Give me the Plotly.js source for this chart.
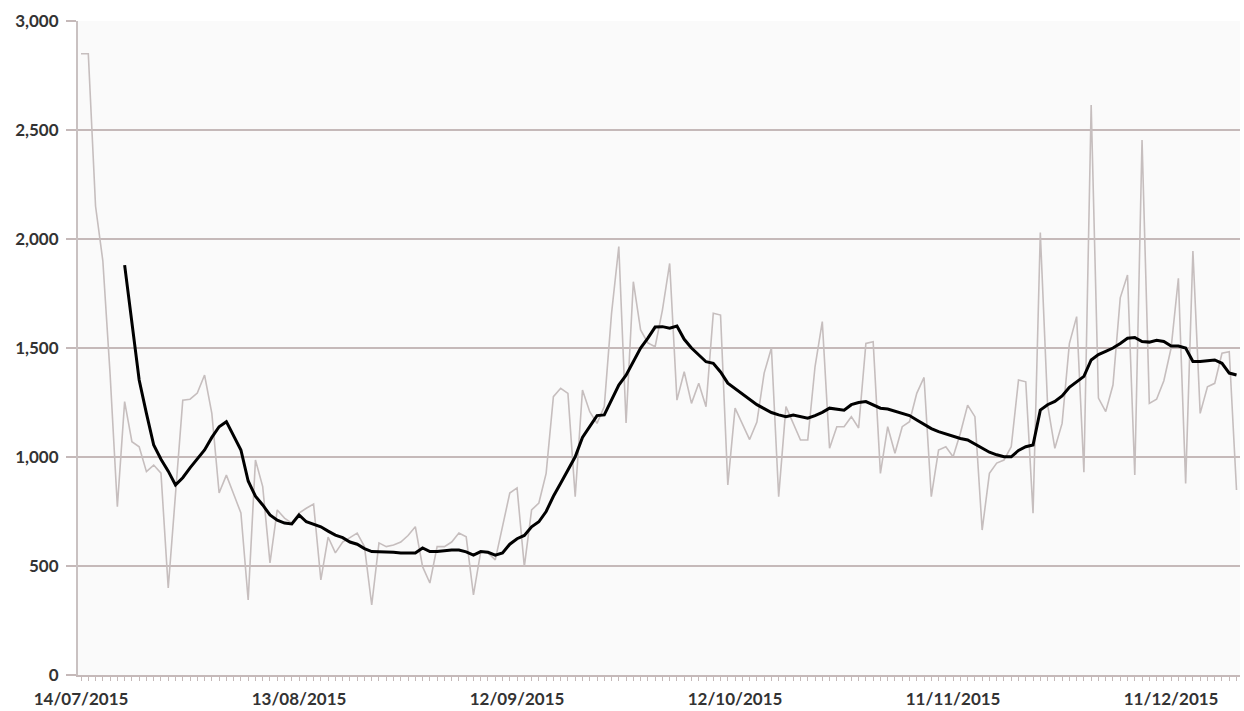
<!DOCTYPE html>
<html>
<head>
<meta charset="utf-8">
<script src="https://cdn.plot.ly/plotly-3.0.1.min.js"></script>
<style>html,body{margin:0;padding:0;background:#fff;}#chart{width:1244px;height:711px;}</style>
</head>
<body>
<div id="chart"></div>
<script>
// Daily values starting 14/07/2015 (one value per day)
var startDate = '2015-07-14';
var daily = [
  2850, 2850, 2150, 1900, 1380, 772, 1254, 1070, 1047, 933,
  963, 926, 399, 835, 1261, 1265, 1293, 1376, 1200, 835,
  917, 830, 743, 344, 986, 864, 514, 757, 720, 697,
  743, 765, 784, 436, 633, 560, 610, 630, 651, 589,
  321, 606, 589, 596, 610, 640, 680, 497, 422, 589,
  589, 610, 651, 634, 367, 566, 560, 528, 680, 835,
  858, 497, 757, 789, 925, 1277, 1315, 1292, 818, 1307,
  1208, 1154, 1231, 1659, 1965, 1156, 1804, 1583, 1523, 1506,
  1674, 1888, 1261, 1391, 1246, 1338, 1231, 1659, 1651, 872,
  1224, 1150, 1080, 1160, 1385, 1500, 818, 1231, 1154, 1078,
  1078, 1414, 1621, 1040, 1139, 1139, 1185, 1133, 1521, 1529,
  925, 1139, 1017, 1139, 1162, 1292, 1365, 818, 1032, 1047,
  1001, 1109, 1238, 1185, 665, 925, 972, 986, 1047, 1353,
  1345, 742, 2030, 1240, 1040, 1154, 1520, 1644, 930, 2615,
  1270, 1208, 1330, 1730, 1835, 917, 2454, 1246, 1265, 1350,
  1500, 1820, 879, 1945, 1200, 1322, 1338, 1476, 1483, 849
];
// Moving average line (starts on the 7th day)
var avgStart = 6;
var average = [
  1880, 1620, 1353, 1200, 1055, 990, 935, 872, 905, 950,
  990, 1032, 1090, 1139, 1162, 1100, 1032, 890, 820, 780,
  734, 710, 697, 693, 734, 703, 690, 680, 660, 642,
  630, 610, 600, 580, 566, 566, 566, 563, 560, 560,
  560, 583, 566, 566, 570, 573, 573, 565, 550, 566,
  563, 550, 560, 600, 625, 640, 680, 703, 750, 820,
  880, 940, 1001, 1090, 1140, 1190, 1193, 1260, 1330, 1375,
  1440, 1500, 1545, 1596, 1598, 1591, 1601, 1540, 1500, 1470,
  1437, 1430, 1390, 1339, 1315, 1290, 1265, 1240, 1222, 1204,
  1193, 1185, 1193, 1185, 1178, 1190, 1205, 1224, 1218, 1215,
  1240, 1250, 1254, 1240, 1224, 1220, 1210, 1200, 1190, 1170,
  1150, 1130, 1116, 1105, 1095, 1085, 1078, 1060, 1040, 1022,
  1010, 1001, 1001, 1030, 1047, 1055, 1215, 1240, 1255, 1280,
  1320, 1345, 1370, 1445, 1470, 1485, 1500, 1521, 1545, 1548,
  1530, 1527, 1535, 1530, 1509, 1509, 1500, 1438, 1438, 1442,
  1445, 1430, 1385, 1376
];
var tickDates = ['2015-07-14', '2015-08-13', '2015-09-12', '2015-10-12', '2015-11-11', '2015-12-11'];
var tickLabels = ['14/07/2015', '13/08/2015', '12/09/2015', '12/10/2015', '11/11/2015', '11/12/2015'];
var yTicks = [0, 500, 1000, 1500, 2000, 2500, 3000];
var yTickLabels = ['0', '500', '1,000', '1,500', '2,000', '2,500', '3,000'];

function dayString(i) {
  var d = new Date(startDate + 'T00:00:00Z');
  d.setUTCDate(d.getUTCDate() + i);
  return d.toISOString().slice(0, 10);
}
var dates = daily.map(function (v, i) { return dayString(i); });
var avgDates = average.map(function (v, i) { return dayString(i + avgStart); });

var gridColor = '#c5b9b9';
var font = {family: 'Lato, "Open Sans", sans-serif', size: 17, color: '#333333', weight: 'bold'};

var data = [
  {x: dates, y: daily, type: 'scatter', mode: 'lines',
   line: {color: '#c6bebe', width: 1.6}, hoverinfo: 'x+y', showlegend: false},
  {x: avgDates, y: average, type: 'scatter', mode: 'lines',
   line: {color: '#000000', width: 3}, hoverinfo: 'x+y', showlegend: false}
];

var layout = {
  width: 1244, height: 711,
  margin: {l: 78, r: 4, t: 21, b: 36, pad: 0},
  paper_bgcolor: '#ffffff',
  plot_bgcolor: '#fafafa',
  font: font,
  showlegend: false,
  xaxis: {
    type: 'date',
    range: ['2015-07-13 14:00', '2015-12-20 11:30'],
    tickmode: 'array', tickvals: tickDates, ticktext: tickLabels,
    ticks: 'outside', ticklen: 4, tickwidth: 1, tickcolor: gridColor,
    minor: {dtick: 86400000, ticks: 'outside', ticklen: 4, tickwidth: 1, tickcolor: gridColor, showgrid: false},
    showgrid: false, zeroline: false,
    showline: true, linecolor: gridColor, linewidth: 2,
    tickfont: font, ticklabelstandoff: 4, fixedrange: true
  },
  yaxis: {
    range: [0, 3000],
    tickmode: 'array', tickvals: yTicks, ticktext: yTickLabels,
    ticks: 'outside', ticklen: 10, tickwidth: 2, tickcolor: gridColor,
    showgrid: true, gridcolor: gridColor, gridwidth: 2,
    zeroline: false,
    showline: true, linecolor: '#c9c1c1', linewidth: 2,
    tickfont: font, ticklabelstandoff: 4, fixedrange: true
  }
};

Plotly.newPlot('chart', data, layout, {displayModeBar: false, staticPlot: true});
</script>
</body>
</html>
